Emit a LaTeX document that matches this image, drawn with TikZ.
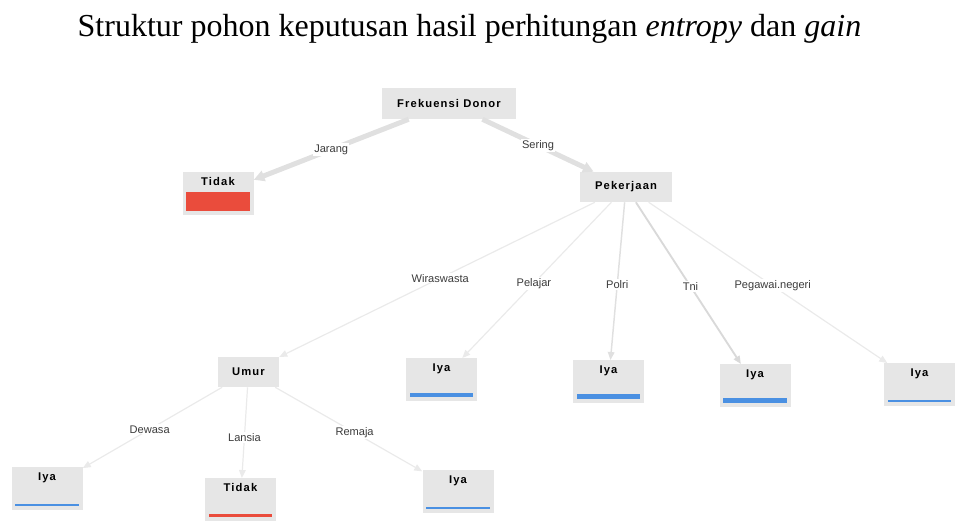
\documentclass[tikz,border=0pt]{standalone}
\usepackage{fontspec}
\setmainfont{Liberation Serif}
\newfontfamily\nodefont[LetterSpace=10]{Liberation Sans}
\newfontfamily\edgefont{Liberation Sans}
\usetikzlibrary{arrows.meta}
\definecolor{boxgray}{RGB}{230,230,230}
\definecolor{linkgray}{RGB}{224,224,224}
\definecolor{faintgray}{RGB}{234,234,234}
\definecolor{leafred}{RGB}{234,76,60}
\definecolor{leafblue}{RGB}{74,144,226}
\definecolor{labelgray}{RGB}{60,60,60}

% class bar inside a leaf: node, colour, height in px
\newcommand{\leafbar}[3]{%
  \fill[#2] ([xshift=3pt,yshift=3.75pt]#1.south west) rectangle ([xshift=-3pt,yshift=3.75pt+#3*0.75pt]#1.south east);}

\begin{document}
\begin{tikzpicture}[
    x=0.75pt, y=-0.75pt,
    attr/.style={fill=boxgray, inner sep=0pt, font=\nodefont\bfseries\fontsize{8.4}{10}\selectfont},
    leaf/.style={fill=boxgray, anchor=north, inner sep=0pt, minimum width=53.25pt, text height=9.75pt, text depth=22.5pt, font=\nodefont\bfseries\fontsize{8.4}{10}\selectfont},
    link/.style={line width=3.75pt, linkgray, -{Triangle[length=8pt,width=8pt]}},
    twig/.style={line width=0.9pt, faintgray, -{Triangle[length=6pt,width=5pt]}},
    elabel/.style={fill=white, inner sep=1pt, text=labelgray, font=\edgefont\fontsize{8.3}{10}\selectfont, pos=0.52},
]
    \useasboundingbox (0,0) rectangle (955,529);

    \node[font=\fontsize{24}{28}\selectfont, anchor=base] (title) at (469.5,36) {Struktur pohon keputusan hasil perhitungan \textit{entropy} dan \textit{gain}};

    % attribute nodes
    \node[attr, minimum width=100.5pt, minimum height=23.25pt] (donor) at (449,103.5) {Frekuensi Donor};
    \node[attr, minimum width=69pt, minimum height=22.5pt] (kerja) at (626,187) {Pekerjaan};
    \node[attr, minimum width=45.75pt, minimum height=22.5pt] (umur) at (248.5,372) {Umur};

    % leaves
    \node[leaf] (tidakRoot) at (218,172) {Tidak};
    \node[leaf] (iyaPelajar) at (441.5,358) {Iya};
    \node[leaf] (iyaPolri) at (608.5,360) {Iya};
    \node[leaf] (iyaTni) at (755,364) {Iya};
    \node[leaf] (iyaPegawai) at (919.5,363) {Iya};
    \node[leaf] (iyaDewasa) at (47,467) {Iya};
    \node[leaf] (tidakLansia) at (240.5,478) {Tidak};
    \node[leaf] (iyaRemaja) at (458,470) {Iya};

    \leafbar{tidakRoot}{leafred}{19}
    \leafbar{iyaPelajar}{leafblue}{4}
    \leafbar{iyaPolri}{leafblue}{5}
    \leafbar{iyaTni}{leafblue}{5}
    \leafbar{iyaPegawai}{leafblue}{2}
    \leafbar{iyaDewasa}{leafblue}{2}
    \leafbar{tidakLansia}{leafred}{3}
    \leafbar{iyaRemaja}{leafblue}{2}

    % edges
    \draw[link] (donor) -- node[elabel, pos=0.5] {Jarang} (tidakRoot);
    \draw[link] (donor) -- node[elabel, pos=0.5] {Sering} (kerja);

    \draw[twig] (kerja) -- node[elabel, pos=0.49] {Wiraswasta} (umur);
    \draw[twig] (kerja) -- node[elabel] {Pelajar} (iyaPelajar);
    \draw[twig, line width=1.1pt, linkgray] (kerja) -- node[elabel] {Polri} (iyaPolri);
    \draw[twig, line width=1.4pt, black!15] (kerja) -- node[elabel] {Tni} (iyaTni);
    \draw[twig] (kerja) -- node[elabel] {Pegawai.negeri} (iyaPegawai);

    \draw[twig] (umur) -- node[elabel] {Dewasa} (iyaDewasa);
    \draw[twig] (umur) -- node[elabel, pos=0.55] {Lansia} (tidakLansia);
    \draw[twig] (umur) -- node[elabel, pos=0.54] {Remaja} (iyaRemaja);
\end{tikzpicture}
\end{document}
